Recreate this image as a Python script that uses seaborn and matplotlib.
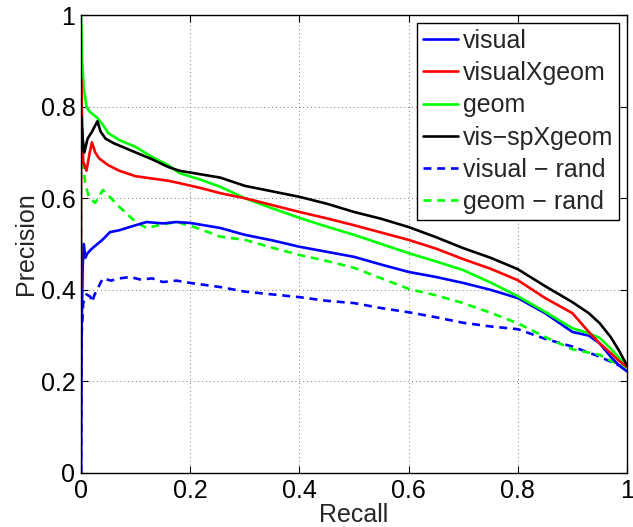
import matplotlib
matplotlib.use("Agg")
import matplotlib.pyplot as plt
import seaborn as sns

# precision / recall curves
vis_sp_x = [0, 0, 0.003, 0.006, 0.012, 0.02, 0.03, 0.036, 0.045, 0.06, 0.08, 0.1, 0.13, 0.16, 0.18, 0.22, 0.255, 0.3,
            0.35, 0.4, 0.45, 0.5, 0.55, 0.6, 0.65, 0.7, 0.75, 0.8, 0.85, 0.9, 0.93, 0.95, 0.97, 0.985, 1.0]
vis_sp_y = [0.70, 0.78, 0.73, 0.70, 0.73, 0.745, 0.768, 0.745, 0.73, 0.72, 0.71, 0.70, 0.685, 0.668, 0.660, 0.652,
            0.645, 0.627, 0.615, 0.603, 0.588, 0.570, 0.555, 0.537, 0.515, 0.491, 0.470, 0.445, 0.408, 0.373, 0.349,
            0.327, 0.297, 0.268, 0.235]

visxgeom_x = [0, 0, 0.004, 0.01, 0.016, 0.02, 0.026, 0.033, 0.05, 0.07, 0.1, 0.13, 0.16, 0.18, 0.22, 0.255, 0.3, 0.35,
              0.4, 0.45, 0.5, 0.55, 0.6, 0.65, 0.7, 0.75, 0.8, 0.85, 0.9, 0.93, 0.95, 0.97, 0.985, 1.0]
visxgeom_y = [0.40, 0.86, 0.68, 0.66, 0.70, 0.722, 0.70, 0.687, 0.672, 0.66, 0.648, 0.643, 0.638, 0.633, 0.622, 0.611,
              0.600, 0.585, 0.570, 0.556, 0.541, 0.525, 0.509, 0.49, 0.467, 0.446, 0.421, 0.382, 0.349, 0.308, 0.283,
              0.262, 0.245, 0.232]

geom_x = [0, 0.002, 0.005, 0.01, 0.015, 0.02, 0.03, 0.04, 0.05, 0.07, 0.1, 0.13, 0.16, 0.18, 0.22, 0.255, 0.3, 0.35,
          0.4, 0.45, 0.5, 0.55, 0.6, 0.65, 0.7, 0.75, 0.8, 0.85, 0.9, 0.93, 0.95, 0.97, 1.0]
geom_y = [1.0, 0.90, 0.84, 0.80, 0.79, 0.785, 0.775, 0.76, 0.742, 0.727, 0.712, 0.69, 0.672, 0.655, 0.64, 0.625, 0.600,
          0.578, 0.557, 0.538, 0.52, 0.50, 0.48, 0.462, 0.443, 0.416, 0.386, 0.352, 0.316, 0.305, 0.295, 0.272, 0.232]

visual_x = [0, 0.001, 0.003, 0.005, 0.008, 0.012, 0.02, 0.03, 0.04, 0.053, 0.07, 0.1, 0.12, 0.15, 0.175, 0.2, 0.255,
            0.3, 0.35, 0.4, 0.45, 0.5, 0.55, 0.6, 0.65, 0.7, 0.75, 0.8, 0.85, 0.9, 0.93, 0.95, 0.97, 0.985, 1.0]
visual_y = [0.0, 0.30, 0.45, 0.50, 0.47, 0.48, 0.49, 0.50, 0.51, 0.526, 0.53, 0.541, 0.548, 0.545, 0.548, 0.546, 0.535,
            0.520, 0.508, 0.494, 0.483, 0.472, 0.455, 0.439, 0.428, 0.415, 0.40, 0.382, 0.349, 0.308, 0.30, 0.283,
            0.254, 0.235, 0.222]

geom_rand_x = [0, 0, 0.003, 0.008, 0.015, 0.026, 0.04, 0.055, 0.071, 0.085, 0.1, 0.12, 0.15, 0.175, 0.2, 0.224, 0.255,
               0.3, 0.35, 0.4, 0.45, 0.5, 0.55, 0.6, 0.65, 0.7, 0.75, 0.8, 0.85, 0.9, 0.95, 0.97, 1.0]
geom_rand_y = [0.40, 0.72, 0.68, 0.63, 0.60, 0.59, 0.618, 0.60, 0.58, 0.565, 0.548, 0.535, 0.543, 0.548, 0.54, 0.53,
               0.516, 0.509, 0.492, 0.476, 0.463, 0.448, 0.425, 0.402, 0.388, 0.371, 0.35, 0.327, 0.297, 0.27, 0.258,
               0.245, 0.23]

visual_rand_x = [0, 0.001, 0.004, 0.01, 0.017, 0.02, 0.025, 0.04, 0.055, 0.071, 0.09, 0.11, 0.13, 0.15, 0.175, 0.2,
                 0.255, 0.3, 0.35, 0.4, 0.45, 0.5, 0.55, 0.6, 0.65, 0.7, 0.75, 0.8, 0.85, 0.9, 0.95, 0.97, 1.0]
visual_rand_y = [0.0, 0.30, 0.371, 0.39, 0.385, 0.373, 0.39, 0.425, 0.42, 0.425, 0.428, 0.422, 0.425, 0.417, 0.42,
                 0.415, 0.406, 0.396, 0.39, 0.384, 0.376, 0.371, 0.36, 0.351, 0.34, 0.328, 0.32, 0.314, 0.293, 0.276,
                 0.254, 0.243, 0.228]

tick_vals = [0, 0.2, 0.4, 0.6, 0.8, 1.0]
tick_labels = ["0", "0.2", "0.4", "0.6", "0.8", "1"]

# drawing order: dashed first, legend order follows the reference
series = [
    ("visual \u2212 rand", visual_rand_x, visual_rand_y, "#0000ff", (0, (3.0, 2.2))),
    ("geom \u2212 rand", geom_rand_x, geom_rand_y, "#00ff00", (0, (3.0, 2.2))),
    ("visual", visual_x, visual_y, "#0000ff", "-"),
    ("geom", geom_x, geom_y, "#00ff00", "-"),
    ("visualXgeom", visxgeom_x, visxgeom_y, "#ff0000", "-"),
    ("vis\u2212spXgeom", vis_sp_x, vis_sp_y, "#000000", "-"),
]
legend_order = ["visual", "visualXgeom", "geom", "vis\u2212spXgeom", "visual \u2212 rand", "geom \u2212 rand"]

sns.set_style("ticks")
plt.rcParams['font.family'] = ['Liberation Sans', 'DejaVu Sans']

fig = plt.figure(figsize=(6.33, 5.27), dpi=100)
ax = fig.add_axes([0.128, 0.1025, 0.8625, 0.869])

handles = {}
for name, xs, ys, col, ls in series:
    sns.lineplot(x=xs, y=ys, ax=ax, estimator=None, sort=False, color=col,
                 linestyle=ls, linewidth=1.9)
    handles[name] = ax.lines[-1]

ax.set_xlim(0, 1)
ax.set_ylim(0, 1)
ax.set_xticks(tick_vals)
ax.set_xticklabels(tick_labels)
ax.set_yticks(tick_vals)
ax.set_yticklabels(tick_labels)
ax.grid(True, linestyle=(0, (1, 3)), color="#777777", linewidth=0.7)
ax.tick_params(direction="in", top=True, right=True, length=5, width=0.8,
               labelsize=18, pad=4, colors="black")
for sp in ax.spines.values():
    sp.set_color("black")
    sp.set_linewidth(1.0)

ax.set_xlabel("Recall", fontsize=18, labelpad=0)
ax.set_ylabel("Precision", fontsize=18, labelpad=2)

leg = ax.legend([handles[k] for k in legend_order], legend_order, loc="upper right",
                fontsize=18, frameon=True, fancybox=False, framealpha=1,
                edgecolor="black", handlelength=1.4, handletextpad=0.2,
                labelspacing=0.33, borderpad=0.25, borderaxespad=0.3)
leg.get_frame().set_linewidth(1.0)

fig.savefig("out.png", dpi=100)
